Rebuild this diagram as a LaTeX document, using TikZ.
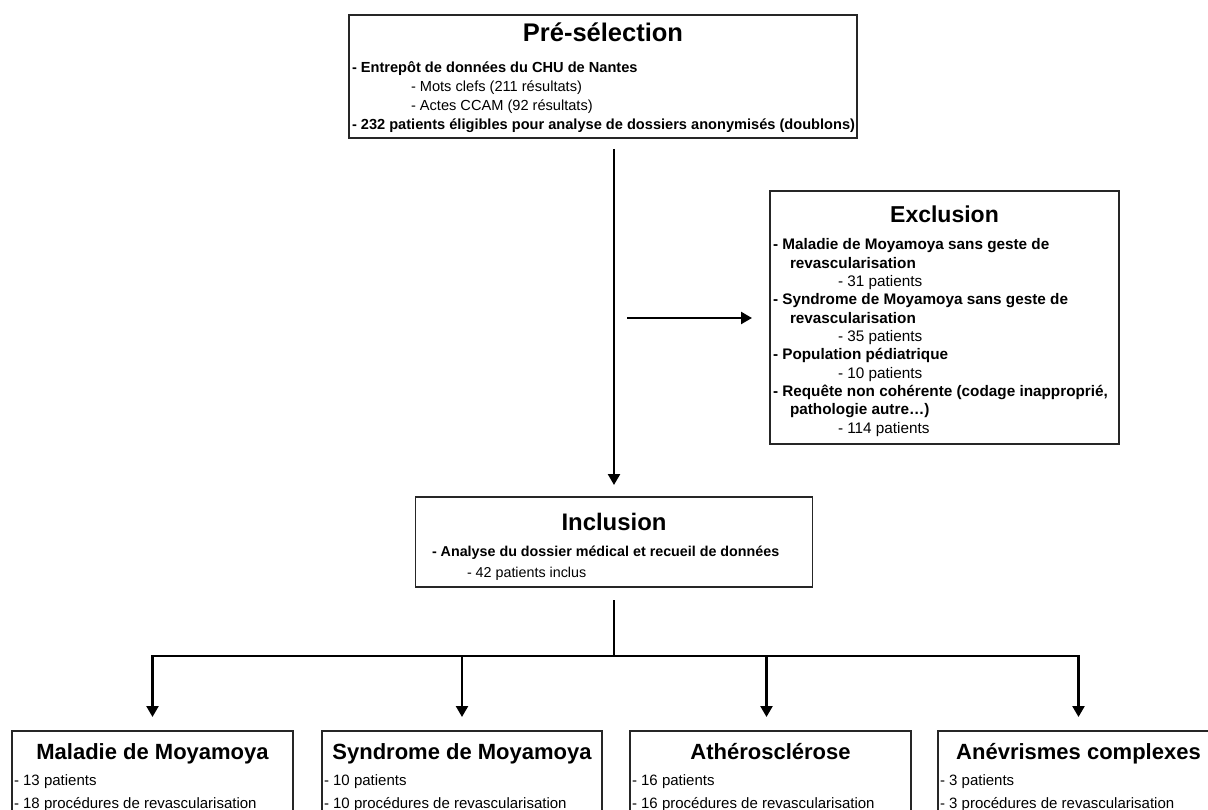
\documentclass[tikz,border=0pt]{standalone}
\usepackage{fontspec}
\setmainfont{Liberation Sans}
\usetikzlibrary{arrows.meta}
\tikzset{
  box/.style={draw=black!85, line width=1.2pt, fill=none, inner sep=0pt, outer sep=0pt},
  conn/.style={line width=2.4pt, draw=black},
  arr/.style={conn, -{Triangle[width=12pt,length=11pt]}},
  txt/.style={anchor=base west, inner sep=0pt, outer sep=0pt},
  ttl/.style={anchor=base, inner sep=0pt, outer sep=0pt, font=\bfseries\fontsize{22}{26}\selectfont},
  preb/.style={txt, font=\bfseries\fontsize{14.6}{17}\selectfont},
  prer/.style={txt, font=\fontsize{14.6}{17}\selectfont},
  exb/.style={txt, font=\bfseries\fontsize{15.3}{18}\selectfont},
  exr/.style={txt, font=\fontsize{15.3}{18}\selectfont},
  inb/.style={txt, font=\bfseries\fontsize{14.3}{17}\selectfont},
  inr/.style={txt, font=\fontsize{14.3}{17}\selectfont},
  btr/.style={txt, font=\fontsize{15}{18}\selectfont},
}
\begin{document}
\begin{tikzpicture}[x=1pt,y=-1pt]
\useasboundingbox (0,0) rectangle (1208,810);
\clip (0,0) rectangle (1208,810);
\fill[white] (0,0) rectangle (1208,810);

% Pre-selection
\node[box, minimum width=508pt, minimum height=123pt] (pre) at (603,76.5) {};
\node[ttl, font=\bfseries\fontsize{25.5}{30}\selectfont] (preT) at (603,42) {Pré-sélection};
\node[preb] (pre1) at (352,73) {- Entrepôt de données du CHU de Nantes};
\node[prer] (pre2) at (411,92) {- Mots clefs (211 résultats)};
\node[prer] (pre3) at (411,111) {- Actes CCAM (92 résultats)};
\node[preb] (pre4) at (352,130) {- 232 patients éligibles pour analyse de dossiers anonymisés (doublons)};

% Exclusion
\node[box, minimum width=349pt, minimum height=253pt] (excl) at (944.5,317.5) {};
\node[ttl, font=\bfseries\fontsize{23}{27}\selectfont] (exT) at (944.5,223) {Exclusion};
\node[exb] (ex1) at (773,250) {- Maladie de Moyamoya sans geste de};
\node[exb] (ex2) at (790,268.3) {revascularisation};
\node[exr] (ex3) at (838,286.6) {- 31 patients};
\node[exb] (ex4) at (773,304.9) {- Syndrome de Moyamoya sans geste de};
\node[exb] (ex5) at (790,323.2) {revascularisation};
\node[exr] (ex6) at (838,341.5) {- 35 patients};
\node[exb] (ex7) at (773,359.8) {- Population pédiatrique};
\node[exr] (ex8) at (838,378.1) {- 10 patients};
\node[exb] (ex9) at (773,396.4) {- Requête non cohérente (codage inapproprié,};
\node[exb] (ex10) at (790,414.7) {pathologie autre…)};
\node[exr] (ex11) at (838,433) {- 114 patients};

% Inclusion
\node[box, minimum width=397pt, minimum height=90pt] (incl) at (614,542) {};
\node[ttl, font=\bfseries\fontsize{23.9}{28}\selectfont] (inT) at (614,530) {Inclusion};
\node[inb] (in1) at (432,556) {- Analyse du dossier médical et recueil de données};
\node[inr] (in2) at (467,577) {- 42 patients inclus};

% Bottom boxes
\node[box, minimum width=281pt, minimum height=130pt] (b1) at (152.5,796) {};
\node[box, minimum width=280pt, minimum height=130pt] (b2) at (462,796) {};
\node[box, minimum width=281pt, minimum height=130pt] (b3) at (770.5,796) {};
\node[box, minimum width=281pt, minimum height=130pt] (b4) at (1078.5,796) {};

\node[ttl] (b1T) at (152.5,759) {Maladie de Moyamoya};
\node[btr] (b1a) at (14,785) {- 13 patients};
\node[btr] (b1b) at (14,808) {- 18 procédures de revascularisation};

\node[ttl] (b2T) at (462,759) {Syndrome de Moyamoya};
\node[btr] (b2a) at (324,785) {- 10 patients};
\node[btr] (b2b) at (324,808) {- 10 procédures de revascularisation};

\node[ttl] (b3T) at (770.5,759) {Athérosclérose};
\node[btr] (b3a) at (632,785) {- 16 patients};
\node[btr] (b3b) at (632,808) {- 16 procédures de revascularisation};

\node[ttl] (b4T) at (1078.5,759) {Anévrismes complexes};
\node[btr] (b4a) at (940,785) {- 3 patients};
\node[btr] (b4b) at (940,808) {- 3 procédures de revascularisation};

% Connectors
\draw[arr, shorten <=11pt, shorten >=12pt] (incl.north |- pre.south) -- (incl.north);
\coordinate (hs) at (627,318);
\draw[arr, shorten >=18pt] (hs) -- (hs -| excl.west);
\coordinate (split) at (614,656);
\draw[conn, shorten <=13pt] (incl.south) -- (split);
\draw[conn, line cap=rect] (b1.north |- split) -- (b4.north |- split);
\draw[arr, shorten >=14pt] (b1.north |- split) -- (b1.north);
\draw[arr, shorten >=14pt] (b2.north |- split) -- (b2.north);
\draw[arr, shorten >=14pt] ([xshift=-4pt]b3.north |- split) -- ([xshift=-4pt]b3.north);
\draw[arr, shorten >=14pt] (b4.north |- split) -- (b4.north);
\end{tikzpicture}
\end{document}
